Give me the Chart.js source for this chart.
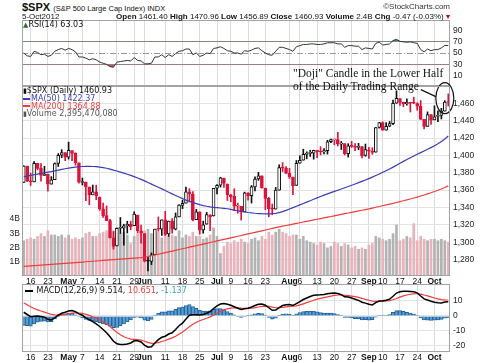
<!DOCTYPE html>
<html>
<head>
<meta charset="utf-8">
<script src="https://cdn.jsdelivr.net/npm/chart.js@4.4.1/dist/chart.umd.min.js"></script>
<style>
  body { margin: 0; background: #fff; }
  #wrap { position: relative; width: 480px; height: 363px; overflow: hidden; font-family: "Liberation Sans", Arial, sans-serif; color: #111; }
  canvas { position: absolute; left: 0; }
  .t { position: absolute; white-space: nowrap; }
  .lg { font-family: "DejaVu Sans", sans-serif; font-size: 8px; }
  .dash { display: inline-block; width: 7px; height: 2px; vertical-align: middle; margin-right: 1px; }
</style>
</head>
<body>
<div id="wrap">
  <canvas id="rsiChart" width="480" height="66" style="top:20px"></canvas>
  <canvas id="mainChart" width="480" height="227" style="top:60px"></canvas>
  <canvas id="macdChart" width="480" height="79" style="top:284px"></canvas>

  <div class="t" style="left:22px;top:1px;font-size:11px;line-height:12px"><b>$SPX</b> <span style="font-size:7.5px">(S&amp;P 500 Large Cap Index) INDX</span></div>
  <div class="t" style="right:30px;top:2px;font-size:8px;line-height:9px;color:#333">&copy;StockCharts.com</div>
  <div class="t" style="left:22px;top:12px;font-size:8px;line-height:9px">5-Oct2012</div>
  <div class="t" id="quote" style="right:30px;top:12px;font-size:8px;line-height:9px"></div>

  <div class="t lg" id="rsiLegend" style="left:23px;top:21px;line-height:8px"></div>
  <div class="t lg" id="mainLegend" style="left:23px;top:87px;line-height:7.4px"></div>
  <div class="t lg" id="macdLegend" style="left:25px;top:287px;line-height:8px"></div>

  <div class="t" style="left:293px;top:67px;font-family:'Liberation Serif',serif;font-size:11.5px;line-height:13px;color:#111">"Doji" Candle in the Lower Half<br>of the Daily Trading Range</div>
</div>

<script>
// trading days shown on the chart (2012)
const dates = [
  'Apr 12','Apr 13','Apr 16','Apr 17','Apr 18','Apr 19','Apr 20','Apr 23','Apr 24','Apr 25','Apr 26','Apr 27','Apr 30',
  'May 1','May 2','May 3','May 4','May 7','May 8','May 9','May 10','May 11','May 14','May 15','May 16','May 17','May 18','May 21','May 22','May 23','May 24','May 25','May 29','May 30','May 31',
  'Jun 1','Jun 4','Jun 5','Jun 6','Jun 7','Jun 8','Jun 11','Jun 12','Jun 13','Jun 14','Jun 15','Jun 18','Jun 19','Jun 20','Jun 21','Jun 22','Jun 25','Jun 26','Jun 27','Jun 28','Jun 29',
  'Jul 2','Jul 3','Jul 5','Jul 6','Jul 9','Jul 10','Jul 11','Jul 12','Jul 13','Jul 16','Jul 17','Jul 18','Jul 19','Jul 20','Jul 23','Jul 24','Jul 25','Jul 26','Jul 27','Jul 30','Jul 31',
  'Aug 1','Aug 2','Aug 3','Aug 6','Aug 7','Aug 8','Aug 9','Aug 10','Aug 13','Aug 14','Aug 15','Aug 16','Aug 17','Aug 20','Aug 21','Aug 22','Aug 23','Aug 24','Aug 27','Aug 28','Aug 29','Aug 30','Aug 31',
  'Sep 4','Sep 5','Sep 6','Sep 7','Sep 10','Sep 11','Sep 12','Sep 13','Sep 14','Sep 17','Sep 18','Sep 19','Sep 20','Sep 21','Sep 24','Sep 25','Sep 26','Sep 27','Sep 28',
  'Oct 1','Oct 2','Oct 3','Oct 4','Oct 5'
];

const tickDates = ['Apr 16','Apr 23','May 1','May 7','May 14','May 21','May 29','Jun 1','Jun 11','Jun 18','Jun 25','Jul 2','Jul 9','Jul 16','Jul 23','Aug 1','Aug 6','Aug 13','Aug 20','Aug 27','Sep 4','Sep 10','Sep 17','Sep 24','Oct 1'];
const tickText  = ['16','23','May','7','14','21','29','Jun','11','18','25','Jul','9','16','23','Aug','6','13','20','27','Sep','10','17','24','Oct'];

const open = [
  1368.77,1387.61,1370.27,1369.57,1390.78,1385.08,1376.96,1378.53,1366.97,1372.11,1390.64,1400.19,1403.26,
  1397.86,1405.50,1402.32,1391.51,1368.79,1369.16,1363.20,1354.58,1358.11,1351.93,1338.36,1330.78,1324.82,1305.05,1295.73,1316.09,1316.02,1318.72,1320.64,1318.90,1331.25,1313.09,
  1309.87,1278.29,1277.82,1285.61,1316.15,1314.99,1325.72,1309.40,1324.02,1314.88,1329.19,1342.42,1344.83,1357.98,1355.43,1325.92,1334.90,1314.09,1320.71,1331.52,1330.12,
  1362.33,1365.75,1373.72,1367.09,1354.66,1352.96,1341.40,1341.29,1334.81,1356.50,1353.68,1363.58,1373.01,1376.51,1362.34,1350.52,1338.35,1338.17,1360.05,1385.94,1385.27,
  1379.32,1375.13,1365.45,1391.04,1394.46,1401.23,1402.26,1402.58,1405.87,1404.36,1403.89,1405.57,1415.84,1417.85,1418.13,1413.09,1413.49,1401.99,1411.13,1410.44,1409.32,1410.08,1400.07,
  1406.54,1404.94,1403.74,1432.12,1437.92,1429.13,1433.56,1436.56,1460.07,1465.42,1461.19,1459.50,1461.05,1460.34,1459.76,1456.94,1441.60,1433.36,1447.13,
  1440.90,1444.99,1446.05,1451.08,1461.40
];
const high = [
  1388.13,1387.61,1379.66,1392.76,1390.78,1390.46,1387.40,1378.53,1375.57,1391.37,1402.09,1406.64,1403.26,
  1415.32,1405.50,1403.07,1391.51,1373.91,1369.16,1363.73,1365.88,1365.66,1351.93,1344.94,1341.78,1326.36,1312.24,1316.39,1328.49,1320.71,1324.14,1324.20,1334.93,1331.25,1319.74,
  1309.87,1282.55,1287.62,1315.13,1329.05,1325.81,1335.52,1324.31,1327.28,1333.68,1343.32,1348.22,1363.46,1361.57,1358.27,1337.82,1334.90,1324.24,1334.40,1331.52,1362.17,
  1366.35,1374.81,1373.85,1367.09,1354.87,1361.54,1345.00,1341.29,1357.70,1357.26,1365.36,1375.26,1380.39,1376.51,1362.34,1351.53,1343.98,1363.13,1389.19,1391.74,1387.16,
  1385.03,1375.13,1394.16,1399.63,1407.14,1404.14,1405.95,1405.98,1405.87,1410.03,1407.73,1417.44,1418.71,1418.13,1426.68,1416.12,1413.49,1413.46,1416.17,1413.63,1413.95,1410.08,1413.09,
  1409.31,1408.81,1432.12,1437.92,1438.74,1437.76,1439.15,1463.76,1474.51,1465.63,1461.47,1465.15,1461.23,1467.07,1460.72,1463.24,1441.60,1450.20,1447.13,
  1457.14,1451.52,1454.30,1463.14,1470.96
];
const low = [
  1368.77,1369.85,1365.38,1369.57,1383.29,1370.30,1376.96,1358.79,1366.82,1372.11,1387.28,1397.31,1394.00,
  1395.73,1393.92,1388.71,1367.96,1365.88,1347.75,1343.13,1354.58,1348.89,1336.61,1328.41,1324.79,1304.86,1291.98,1295.73,1310.04,1296.53,1310.50,1314.23,1318.90,1310.76,1298.90,
  1277.25,1266.74,1274.16,1285.61,1312.68,1307.77,1307.73,1306.62,1310.51,1314.14,1329.19,1338.63,1344.83,1346.45,1324.41,1325.92,1309.27,1310.30,1320.71,1313.29,1330.12,
  1355.70,1363.53,1363.02,1348.03,1346.65,1336.27,1333.25,1325.41,1334.81,1348.51,1345.07,1358.96,1371.21,1362.19,1337.56,1329.24,1331.50,1338.17,1360.05,1381.37,1379.17,
  1373.35,1354.65,1365.45,1391.04,1394.46,1396.13,1398.80,1395.62,1397.32,1400.60,1401.83,1401.53,1414.67,1412.12,1410.86,1406.78,1400.50,1398.04,1409.11,1405.59,1406.57,1397.01,1398.96,
  1396.56,1401.25,1403.74,1431.45,1428.98,1429.13,1432.99,1435.34,1460.07,1457.55,1456.13,1457.88,1449.98,1459.51,1452.06,1441.59,1430.53,1433.36,1435.60,
  1440.90,1439.01,1441.99,1451.08,1456.89
];
const close = [
  1387.57,1370.26,1369.57,1390.78,1385.14,1376.92,1378.53,1366.94,1371.97,1390.69,1399.98,1403.36,1397.91,
  1405.82,1402.31,1391.57,1369.10,1369.58,1363.72,1354.58,1357.99,1353.39,1338.35,1330.66,1324.80,1304.86,1295.22,1315.99,1316.63,1318.86,1320.68,1317.82,1332.42,1313.32,1310.33,
  1278.04,1278.18,1285.50,1315.13,1314.99,1325.66,1308.93,1324.18,1314.88,1329.10,1342.84,1344.78,1357.98,1355.69,1325.51,1335.02,1313.72,1319.99,1331.85,1329.04,1362.16,
  1365.51,1374.02,1367.58,1354.68,1352.46,1341.47,1341.45,1334.76,1356.78,1353.64,1363.67,1372.78,1376.51,1362.66,1350.52,1338.31,1337.89,1360.02,1385.97,1385.30,1379.32,
  1375.32,1365.00,1390.99,1394.23,1401.35,1402.22,1402.80,1405.87,1404.11,1403.93,1405.53,1415.51,1418.16,1418.13,1413.17,1413.49,1402.08,1411.13,1410.44,1409.30,1410.49,1399.48,1406.58,
  1404.94,1403.44,1432.12,1437.92,1429.08,1433.56,1436.56,1459.99,1465.77,1461.19,1459.32,1461.05,1460.26,1460.15,1456.89,1441.59,1433.32,1447.15,1440.67,
  1444.49,1445.75,1450.99,1461.40,1460.93
];

// volume, billions of shares
const volume = [
  2.5,2.6,2.7,2.6,2.8,3.0,2.8,3.2,2.9,2.9,2.8,2.9,2.7,
  2.9,2.6,2.7,2.6,2.7,3.0,3.1,2.8,2.8,3.0,3.1,3.2,3.1,3.2,2.8,3.0,3.1,2.9,2.3,2.8,3.0,3.1,
  3.2,3.3,3.0,3.1,3.1,2.7,2.9,2.8,2.9,2.8,3.2,2.7,2.9,2.8,3.1,2.8,2.8,2.6,2.7,2.9,3.4,
  2.8,1.6,2.1,2.4,2.3,2.5,2.4,2.6,2.4,2.3,2.6,2.7,2.5,2.8,2.6,3.1,2.9,3.1,3.3,3.1,3.0,
  2.8,2.9,2.9,2.6,2.8,2.5,2.4,2.3,2.2,2.4,2.3,2.0,2.1,2.4,2.3,2.1,2.3,2.2,2.0,2.1,1.9,2.0,1.9,
  2.2,2.3,2.8,2.7,2.6,2.5,2.6,3.0,3.6,2.5,2.6,2.8,2.7,3.7,2.5,2.8,2.6,2.5,2.6,
  2.6,2.5,2.6,2.5,2.39547008
];

const ma50 = [
  1375.5,1376.2,1376.9,1377.7,1378.5,1379.2,1380.0,1380.7,1381.4,1382.2,1383.0,1383.8,1384.6,
  1385.3,1386.0,1386.5,1386.9,1387.2,1387.3,1387.3,1387.2,1387.0,1386.6,1386.0,1385.2,1384.2,1383.0,1382.0,1380.8,1379.6,1378.3,1377.0,1375.5,1374.0,1372.4,
  1370.6,1368.8,1366.9,1365.1,1363.2,1361.4,1359.5,1357.6,1355.7,1353.8,1352.0,1350.2,1348.5,1347.0,1345.6,1344.4,1343.2,1342.2,1341.4,1340.7,1340.2,
  1339.8,1339.4,1339.0,1338.5,1337.8,1337.0,1336.2,1335.4,1334.8,1334.2,1333.7,1333.3,1333.0,1332.8,1332.7,1332.7,1332.8,1333.2,1334.0,1335.2,1336.6,
  1338.2,1339.8,1341.4,1343.0,1344.6,1346.2,1347.8,1349.4,1351.0,1352.6,1354.2,1355.7,1357.1,1358.5,1359.9,1361.3,1362.7,1364.1,1365.6,1367.1,1368.6,1370.1,1371.7,
  1373.3,1375.0,1376.8,1378.6,1380.5,1382.4,1384.4,1386.5,1388.7,1390.9,1393.1,1395.3,1397.4,1399.4,1401.3,1403.2,1405.1,1407.0,1409.0,
  1411.1,1413.4,1416.0,1419.0,1422.37
];
const ma200 = [
  1272.0,1272.3,1272.6,1272.9,1273.2,1273.5,1273.8,1274.1,1274.4,1274.7,1275.0,1275.3,1275.6,
  1275.9,1276.2,1276.5,1276.8,1277.1,1277.4,1277.7,1278.0,1278.3,1278.6,1278.9,1279.2,1279.5,1279.8,1280.1,1280.4,1280.7,1281.0,1281.3,1281.6,1281.9,1282.2,
  1282.6,1283.4,1284.3,1285.2,1286.1,1287.0,1287.9,1288.8,1289.7,1290.6,1291.5,1292.4,1293.3,1294.2,1295.1,1296.0,1296.9,1297.8,1298.7,1299.6,1300.5,
  1301.4,1302.3,1303.2,1304.1,1305.0,1305.9,1306.8,1307.7,1308.6,1309.5,1310.4,1311.3,1312.2,1313.1,1314.0,1314.9,1315.8,1316.7,1317.6,1318.4,1319.2,
  1320.0,1320.8,1321.6,1322.4,1323.2,1324.0,1324.8,1325.6,1326.4,1327.2,1328.0,1328.8,1329.6,1330.4,1331.2,1332.0,1332.8,1333.6,1334.4,1335.2,1336.0,1336.8,1337.6,
  1338.4,1339.3,1340.2,1341.1,1342.0,1342.9,1343.8,1344.7,1345.7,1346.7,1347.7,1348.7,1349.8,1350.9,1352.0,1353.2,1354.4,1355.7,1357.0,
  1358.4,1359.8,1361.3,1363.0,1364.88
];

const rsi = [
  50,45,44,53,51,47,48,44,46,53,56,58,55,
  58,56,52,43,43,41,38,40,38,34,32,30,26,25,34,35,36,37,36,42,37,36,
  31,31,32,43,43,47,42,47,44,49,53,54,57,57,47,50,44,46,50,49,58,
  59,61,58,54,53,50,50,48,54,53,55,58,59,54,50,47,46,53,60,60,58,
  56,53,61,63,65,65,66,66,65,65,66,68,68,68,66,66,60,63,63,62,62,56,59,
  58,57,67,69,64,65,66,72,74,70.5,69.5,69,69.5,68,67,56,52,57,54,
  56,56,59,63.3,63.03
];

const macd = [
  2.5,1.0,-0.5,-0.2,0.0,-0.3,-0.8,-2.2,-2.6,-1.2,0.5,1.8,2.5,
  3.3,3.6,2.8,1.4,0.5,-1.2,-2.5,-3.8,-5.2,-7.0,-9.0,-11.2,-13.8,-16.8,-18.5,-19.0,-19.0,-18.6,-18.0,-16.5,-16.5,-17.3,
  -19.5,-20.8,-20.5,-18.0,-15.8,-14.2,-13.5,-12.0,-11.2,-9.0,-6.5,-4.8,-2.0,0.5,0.8,0.9,0.6,1.0,1.8,2.9,5.0,
  6.8,8.0,8.3,7.8,7.2,6.2,5.2,4.3,4.8,5.2,6.0,7.0,7.8,8.0,7.2,5.5,3.8,4.0,5.6,7.0,7.5,
  7.6,7.0,8.2,9.6,11.0,12.0,13.0,13.8,14.0,14.1,14.3,14.8,15.2,15.3,15.0,14.2,12.8,12.6,12.0,11.2,10.4,9.2,8.6,
  7.8,7.4,8.9,10.0,10.2,10.5,11.2,13.2,15.3,16.2,16.5,16.5,16.4,16.1,15.4,13.3,11.4,10.7,9.8,
  9.2,8.8,8.7,9.3,9.514
];
const signal = [
  8.8,7.5,6.2,5.0,4.1,3.3,2.6,1.8,1.1,0.7,0.6,0.8,1.1,
  1.5,1.9,2.1,2.0,1.7,1.1,0.4,-0.5,-1.4,-2.5,-3.8,-5.3,-7.0,-9.0,-10.9,-12.5,-13.8,-14.7,-15.4,-15.6,-15.8,-16.1,
  -16.8,-17.6,-18.2,-18.1,-17.7,-17.0,-16.3,-15.4,-14.6,-13.5,-12.1,-10.7,-9.0,-7.1,-5.5,-4.2,-3.2,-2.3,-1.5,-0.6,0.5,
  1.8,3.0,4.1,4.8,5.3,5.5,5.4,5.2,5.1,5.1,5.3,5.6,6.0,6.4,6.6,6.4,5.9,5.5,5.5,5.8,6.1,
  6.4,6.5,6.8,7.4,8.1,8.9,9.7,10.5,11.2,11.8,12.3,12.8,13.3,13.7,14.0,14.0,13.8,13.6,13.3,12.9,12.4,11.8,11.1,
  10.5,9.9,9.7,9.8,9.8,10.0,10.2,10.8,11.7,12.6,13.4,14.0,14.5,14.8,15.0,14.6,14.0,13.4,12.7,
  12.0,11.4,10.9,10.7,10.651
];
const hist = [
  -6.3,-6.5,-6.7,-5.2,-4.1,-3.6,-3.4,-4.0,-3.7,-1.9,-0.1,1.0,1.4,
  1.8,1.7,0.7,-0.6,-1.2,-2.3,-2.9,-3.3,-3.8,-4.5,-5.2,-5.9,-6.8,-7.8,-7.6,-6.5,-5.2,-3.9,-2.6,-0.9,-0.7,-1.2,
  -2.7,-3.2,-2.3,0.1,1.9,2.8,2.8,3.4,3.4,4.5,5.6,5.9,7.0,7.6,6.3,5.1,3.8,3.3,3.3,3.5,4.5,
  5.0,5.0,4.2,3.0,1.9,0.7,-0.2,-0.9,-0.3,0.1,0.7,1.4,1.8,1.6,0.6,-0.9,-2.1,-1.5,0.1,1.2,1.4,
  1.2,0.5,1.4,2.2,2.9,3.1,3.3,3.3,2.8,2.3,2.0,2.0,1.9,1.6,1.0,0.2,-1.0,-1.0,-1.3,-1.7,-2.0,-2.6,-2.5,
  -2.7,-2.5,-0.8,0.2,0.4,0.5,1.0,2.4,3.6,3.6,3.1,2.5,1.9,1.3,0.4,-1.3,-2.6,-2.7,-2.9,
  -2.8,-2.6,-2.2,-1.4,-1.137
];

const priceTicks = [1280, 1300, 1320, 1340, 1360, 1380, 1400, 1420, 1440, 1460];
const volTicks = [1, 2, 3, 4];
const rsiTicks = [10, 30, 50, 70, 90];
const macdTicks = [-20, -10, 0, 10];

// ---- colours (StockCharts style) ----
const down = close.map((c, i) => c < (i ? close[i - 1] : open[i]));
const candleColor = down.map(d => d ? '#dc143c' : '#111');
const bodyFill = close.map((c, i) => c < open[i] ? candleColor[i] : '#fff');
const volColor = down.map(d => d ? '#e8b3ba' : '#b3b3b3');

Chart.defaults.font.family = '"Liberation Sans", Arial, sans-serif';
const axisFont = { family: '"Liberation Sans", Arial, sans-serif', size: 8.5 };
const gridGray = '#dcdcdc';

function isMonth(i) {
  const k = tickDates.indexOf(dates[i]);
  return k >= 0 && isNaN(tickText[k]);
}

function xAxis(showLabels) {
  return {
    type: 'category',
    offset: true,
    grid: {
      offset: false,
      drawTicks: false,
      color: c => tickDates.includes(dates[c.index]) ? gridGray : 'rgba(0,0,0,0)'
    },
    border: { display: false },
    ticks: {
      display: showLabels,
      autoSkip: false,
      maxRotation: 0,
      minRotation: 0,
      padding: 1,
      color: '#111',
      font: c => ({ family: axisFont.family, size: 8.5, weight: isMonth(c.index) ? 'bold' : 'normal' }),
      callback: (v, i) => {
        const k = tickDates.indexOf(dates[i]);
        return k < 0 ? '' : tickText[k];
      }
    },
    afterFit: s => { s.height = showLabels ? 11 : 0; s.paddingLeft = 0; s.paddingRight = 0; }
  };
}

// fixed-width side axis, no extra padding so the plot keeps its exact height
function fixSide(width) {
  return s => { s.width = width; s.paddingTop = 0; s.paddingBottom = 0; };
}

function rightAxis(min, max, ticks, gridColor) {
  return {
    position: 'right',
    min: min,
    max: max,
    afterBuildTicks: s => { s.ticks = ticks.map(v => ({ value: v })); },
    afterFit: fixSide(30),
    grid: { color: gridColor, drawTicks: false },
    border: { display: false },
    ticks: { padding: 3, color: '#222', font: axisFont }
  };
}

const panelBorder = {
  id: 'panelBorder',
  afterDraw(chart) {
    const { ctx, chartArea: a } = chart;
    ctx.save();
    ctx.strokeStyle = '#a3a3a3';
    ctx.lineWidth = 1;
    ctx.strokeRect(Math.round(a.left) + 0.5, Math.round(a.top) + 0.5, Math.round(a.width) - 1, Math.round(a.height) - 1);
    ctx.restore();
  }
};

const rsiMid = {
  id: 'rsiMid',
  beforeDatasetsDraw(chart) {
    const { ctx, chartArea: a, scales: { y } } = chart;
    const py = Math.round(y.getPixelForValue(50)) + 0.5;
    ctx.save();
    ctx.strokeStyle = '#999';
    ctx.lineWidth = 1;
    ctx.setLineDash([6, 2, 1, 2]);
    ctx.beginPath();
    ctx.moveTo(a.left, py);
    ctx.lineTo(a.right, py);
    ctx.stroke();
    ctx.restore();
  }
};

// circle around the last candles + pointer line from the note
const dojiMark = {
  id: 'dojiMark',
  afterDatasetsDraw(chart) {
    const { ctx, scales: { x, y } } = chart;
    const cx = x.getPixelForValue(dates.length - 2);
    const cy = y.getPixelForValue(1466);
    ctx.save();
    ctx.strokeStyle = '#111';
    ctx.lineWidth = 1.2;
    ctx.beginPath();
    ctx.ellipse(cx, cy, 9, 15.5, 0, 0, Math.PI * 2);
    ctx.stroke();
    ctx.beginPath();
    ctx.moveTo(cx - 24, cy - 8.5);
    ctx.lineTo(cx - 9, cy - 1.5);
    ctx.stroke();
    ctx.restore();
  }
};

const base = {
  responsive: false,
  animation: false,
  events: [],
  devicePixelRatio: 1,
  plugins: { legend: { display: false }, tooltip: { enabled: false } }
};

// ---- RSI panel ----
new Chart(document.getElementById('rsiChart'), {
  type: 'line',
  data: {
    labels: dates,
    datasets: [
      { data: rsi, borderColor: '#333', borderWidth: 1, pointRadius: 0,
        fill: { target: { value: 70 }, above: '#4a8a4a', below: 'rgba(0,0,0,0)' } },
      { data: rsi, borderColor: 'rgba(0,0,0,0)', borderWidth: 1, pointRadius: 0,
        fill: { target: { value: 30 }, above: 'rgba(0,0,0,0)', below: '#c45a5a' } }
    ]
  },
  options: {
    ...base,
    layout: { padding: { left: 22 } },
    scales: {
      x: xAxis(false),
      y: rightAxis(-8, 108, rsiTicks, c => (c.tick.value === 70 || c.tick.value === 30) ? '#8c8c8c' : 'rgba(0,0,0,0)')
    }
  },
  plugins: [panelBorder, rsiMid]
});

// ---- price panel ----
const volAxis = {
  position: 'left',
  min: 0,
  max: 13.33,
  afterBuildTicks: s => { s.ticks = volTicks.map(v => ({ value: v })); },
  afterFit: fixSide(22),
  grid: { display: false, drawTicks: false },
  border: { display: false },
  ticks: { padding: 2, color: '#222', font: axisFont, callback: v => v + 'B' }
};

new Chart(document.getElementById('mainChart'), {
  type: 'bar',
  data: {
    labels: dates,
    datasets: [
      { type: 'line', data: ma50, yAxisID: 'y', borderColor: '#3c3cb4', borderWidth: 1.2, pointRadius: 0, order: 1 },
      { type: 'line', data: ma200, yAxisID: 'y', borderColor: '#f03c3c', borderWidth: 1.2, pointRadius: 0, order: 2 },
      { data: open.map((o, i) => [o, close[i]]), yAxisID: 'y', backgroundColor: bodyFill, borderColor: candleColor,
        borderWidth: 1, borderSkipped: false, barThickness: 3, minBarLength: 1, grouped: false, order: 3 },
      { data: low.map((l, i) => [l, high[i]]), yAxisID: 'y', backgroundColor: candleColor,
        barThickness: 1, grouped: false, order: 4 },
      { data: volume, yAxisID: 'yv', backgroundColor: volColor, barPercentage: 0.78, categoryPercentage: 1,
        grouped: false, order: 5 }
    ]
  },
  options: {
    ...base,
    layout: { padding: { top: 26 } },
    scales: {
      x: xAxis(true),
      y: rightAxis(1261, 1480, priceTicks, '#e3e3e3'),
      yv: volAxis
    }
  },
  plugins: [panelBorder, dojiMark]
});

// ---- MACD panel ----
new Chart(document.getElementById('macdChart'), {
  type: 'bar',
  data: {
    labels: dates,
    datasets: [
      { type: 'line', data: macd, borderColor: '#000', borderWidth: 1.5, pointRadius: 0, order: 1 },
      { type: 'line', data: signal, borderColor: '#f03c3c', borderWidth: 1.2, pointRadius: 0, order: 2 },
      { data: hist, backgroundColor: '#5a9fd4', borderColor: '#23639c', borderWidth: 1,
        barPercentage: 1, categoryPercentage: 1, order: 3 }
    ]
  },
  options: {
    ...base,
    layout: { padding: { left: 22 } },
    scales: {
      x: xAxis(true),
      y: rightAxis(-24, 21.33, macdTicks, '#e3e3e3')
    }
  },
  plugins: [panelBorder]
});

// ---- text built from the data ----
const last = dates.length - 1;
const chg = close[last] - close[last - 1];
document.getElementById('quote').innerHTML =
  '<b>Open</b> ' + open[last].toFixed(2) + ' <b>High</b> ' + high[last].toFixed(2) +
  ' <b>Low</b> ' + low[last].toFixed(2) + ' <b>Close</b> ' + close[last].toFixed(2) +
  ' <b>Volume</b> ' + volume[last].toFixed(1) + 'B <b>Chg</b> ' + chg.toFixed(2) +
  ' (' + (chg / close[last - 1] * 100).toFixed(2) + '%) <span style="color:#c00">&#9662;</span>';

document.getElementById('rsiLegend').innerHTML =
  '<span style="color:#2f6f2f;font-size:7px">&#9650;</span>RSI(14) ' + rsi[last].toFixed(2);

document.getElementById('mainLegend').innerHTML =
  '<span style="font-size:7px">&#9646;</span>$SPX (Daily) ' + close[last].toFixed(2) + '<br>' +
  '<span style="color:#3c3cb4"><i class="dash" style="background:#3c3cb4"></i>MA(50) ' + ma50[last].toFixed(2) + '</span><br>' +
  '<span style="color:#f03c3c"><i class="dash" style="background:#f03c3c"></i>MA(200) ' + ma200[last].toFixed(2) + '</span><br>' +
  '<span style="color:#555"><span style="font-size:7px">&#9646;</span>Volume ' + Math.round(volume[last] * 1e9).toLocaleString('en-US') + '</span>';

document.getElementById('macdLegend').innerHTML =
  '<i class="dash" style="background:#000;width:8px"></i> MACD(12,26,9) ' + macd[last].toFixed(3) + ', ' +
  '<span style="color:#f03c3c">' + signal[last].toFixed(3) + '</span>, ' +
  '<span style="color:#3a9ad9">' + hist[last].toFixed(3) + '</span>';
</script>
</body>
</html>
